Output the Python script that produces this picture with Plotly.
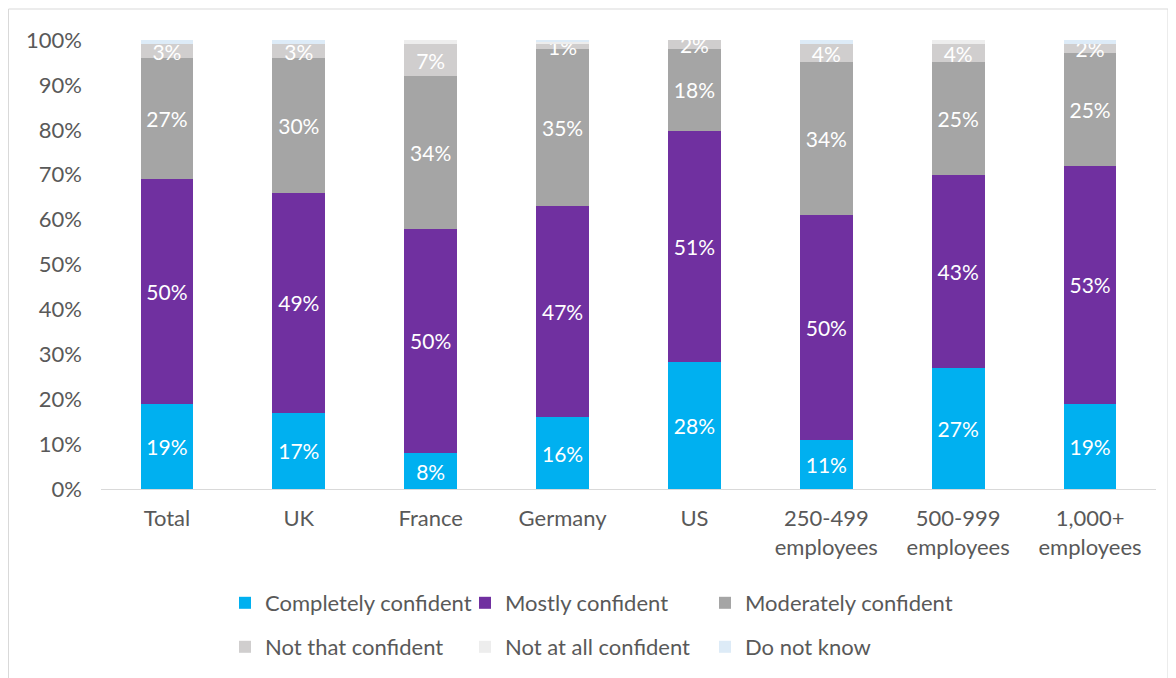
import plotly.graph_objects as go

categories = ["Total", "UK", "France", "Germany", "US",
              "250-499<br>employees", "500-999<br>employees", "1,000+<br>employees"]

completely = [19, 17, 8, 16, 28.3, 11, 27, 19]
mostly = [50, 49, 50, 47, 51.4, 50, 43, 53]
moderately = [27, 30, 34, 35, 18.4, 34, 25, 25]
not_that = [3, 3, 7, 1, 1.9, 4, 4, 2]
not_at_all = [0, 0, 1, 0.5, 0, 0, 1, 0]
do_not_know = [1, 1, 0, 0.7, 0, 1, 0, 1]

# name, values, colour, show labels, which legend box
series = [
    ("Completely confident", completely, "#00B0F0", True, "legend"),
    ("Mostly confident", mostly, "#7030A0", True, "legend"),
    ("Moderately confident", moderately, "#A5A5A5", True, "legend3"),
    ("Not that confident", not_that, "#D0CECE", True, "legend2"),
    ("Not at all confident", not_at_all, "#EDEDED", False, "legend2"),
    ("Do not know", do_not_know, "#DDEBF7", False, "legend2"),
]

font_family = "Lato, 'Open Sans', sans-serif"
text_grey = "#595959"

# the page body adds an 8px offset, so the figure is a bit smaller than the window
fig_w, fig_h = 1168, 670
plot_l, plot_t, plot_w, plot_h = 93, 32, 1055, 449

fig = go.Figure()
for name, values, color, labelled, legend_id in series:
    fig.add_trace(go.Bar(
        name=name,
        x=categories,
        y=values,
        marker=dict(color=color, line=dict(width=0)),
        text=[f"{v:.0f}%" for v in values] if labelled else None,
        textposition="inside" if labelled else "none",
        insidetextanchor="middle",
        constraintext="none",
        textfont=dict(color="white", size=21, family=font_family),
        legend=legend_id,
        hoverinfo="name+y",
    ))

legend_common = dict(
    orientation="h", xref="container", yref="container",
    xanchor="left", yanchor="middle",
    entrywidth=195, entrywidthmode="pixels", itemwidth=30,
    traceorder="normal", font=dict(size=22, color=text_grey),
)

fig.update_layout(
    barmode="stack",
    bargap=0.6,
    width=fig_w,
    height=fig_h,
    margin=dict(l=plot_l, r=fig_w - plot_l - plot_w, t=plot_t,
                b=fig_h - plot_t - plot_h),
    plot_bgcolor="white",
    paper_bgcolor="white",
    font=dict(family=font_family, size=22, color=text_grey),
    legend=dict(x=217 / fig_w, y=1 - 595 / fig_h, **legend_common),
    legend2=dict(x=217 / fig_w, y=1 - 639 / fig_h, **legend_common),
    legend3=dict(x=697 / fig_w, y=1 - 595 / fig_h,
                 **{**legend_common, "entrywidth": 240}),
    shapes=[dict(
        type="rect", xref="paper", yref="paper",
        x0=(0.5 - plot_l) / plot_w, x1=(1160 - plot_l) / plot_w,
        y0=(plot_t + plot_h - 676) / plot_h, y1=(plot_t + plot_h - 1) / plot_h,
        line=dict(color="#D9D9D9", width=1), fillcolor="rgba(0,0,0,0)",
        layer="below",
    )],
)
fig.update_xaxes(showgrid=False, showline=True, linecolor="#D9D9D9",
                 ticks="", automargin=False, ticklabelstandoff=10,
                 tickfont=dict(size=22, color=text_grey))
fig.update_yaxes(range=[0, 100], dtick=10, ticksuffix="%", showgrid=False,
                 zeroline=False, showline=False, ticks="", automargin=False,
                 ticklabelstandoff=18,
                 tickfont=dict(size=22, color=text_grey))

fig.write_html("out.html")
